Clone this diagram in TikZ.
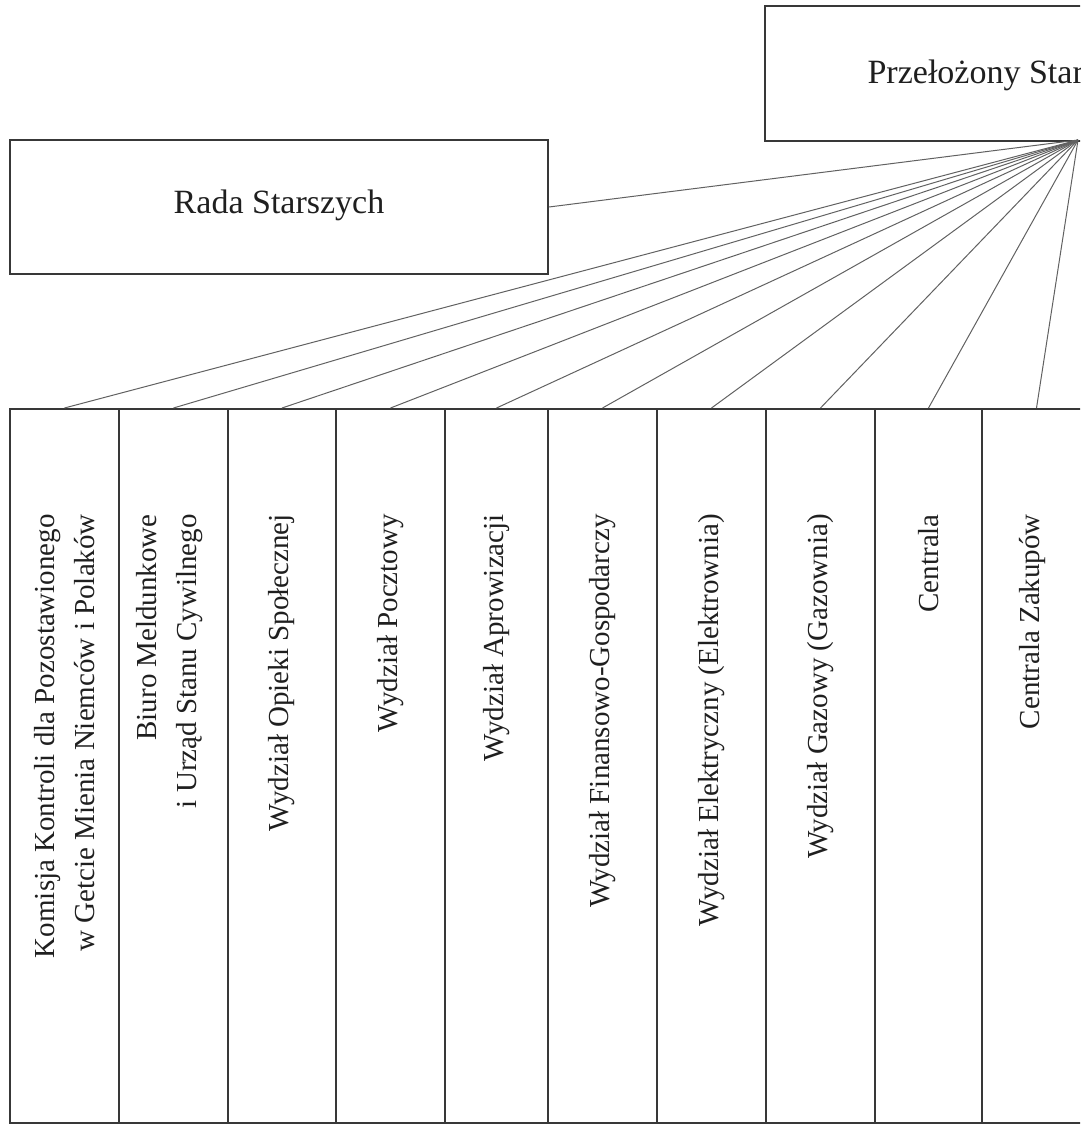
\documentclass[tikz,border=0pt]{standalone}
\usepackage{fontspec}
\setmainfont{Liberation Serif}
\begin{document}
\begin{tikzpicture}[x=1pt,y=-1pt,
  box/.style={draw=black!78, line width=2pt, inner sep=0pt, anchor=north west},
  colbox/.style={box, minimum height=714pt},
  conn/.style={draw=black!62, line width=1pt},
  hlbl/.style={font=\fontsize{34}{40}\selectfont, text=black!88, inner sep=0pt},
  coltext/.style={font=\fontsize{29}{40}\selectfont, text=black!88, rotate=90, anchor=east, inner sep=0pt, align=right}]
\useasboundingbox (0,0) rectangle (1080,1124);
\clip (0,0) rectangle (1080,1124);

% top box (cut by the page edge)
\node[box, minimum width=800pt, minimum height=135pt] (top) at (764,5) {};
\node[hlbl, anchor=base east] (toplbl) at (1084,83) {Przełożony Star};
\coordinate (hub) at (1078,140);

% Rada Starszych
\node[box, minimum width=538pt, minimum height=134pt] (rada) at (9,139) {};
\node[hlbl] (radalbl) at ([yshift=2pt]rada.center) {Rada Starszych};

% columns
\node[colbox, minimum width=109pt] (c1) at (9,408) {};
\node[colbox, minimum width=109pt] (c2) at (118,408) {};
\node[colbox, minimum width=108pt] (c3) at (227,408) {};
\node[colbox, minimum width=109pt] (c4) at (335,408) {};
\node[colbox, minimum width=103pt] (c5) at (444,408) {};
\node[colbox, minimum width=109pt] (c6) at (547,408) {};
\node[colbox, minimum width=109pt] (c7) at (656,408) {};
\node[colbox, minimum width=109pt] (c8) at (765,408) {};
\node[colbox, minimum width=107pt] (c9) at (874,408) {};
\node[colbox, minimum width=109pt] (c10) at (981,408) {};

% column texts
\node[coltext] (t1) at ([yshift=-106pt]c1.north) {Komisja Kontroli dla Pozostawionego\\w Getcie Mienia Niemców i Polaków};
\node[coltext] (t2) at ([yshift=-106pt,xshift=-4pt]c2.north) {Biuro Meldunkowe\\i Urząd Stanu Cywilnego};
\node[coltext] (t3) at ([yshift=-106pt]c3.north) {Wydział Opieki Społecznej};
\node[coltext] (t4) at ([yshift=-106pt]c4.north) {Wydział Pocztowy};
\node[coltext] (t5) at ([yshift=-106pt]c5.north) {Wydział Aprowizacji};
\node[coltext] (t6) at ([yshift=-106pt]c6.north) {Wydział Finansowo-Gospodarczy};
\node[coltext] (t7) at ([yshift=-106pt]c7.north) {Wydział Elektryczny (Elektrownia)};
\node[coltext] (t8) at ([yshift=-106pt]c8.north) {Wydział Gazowy (Gazownia)};
\node[coltext] (t9) at ([yshift=-106pt]c9.north) {Centrala};
\node[coltext] (t10) at ([yshift=-106pt,xshift=-4pt]c10.north) {Centrala Zakupów};

% connectors
\draw[conn] (rada.east) -- (hub);
\foreach \i in {1,...,10} {\draw[conn] (hub) -- (c\i.north);}
\end{tikzpicture}
\end{document}
